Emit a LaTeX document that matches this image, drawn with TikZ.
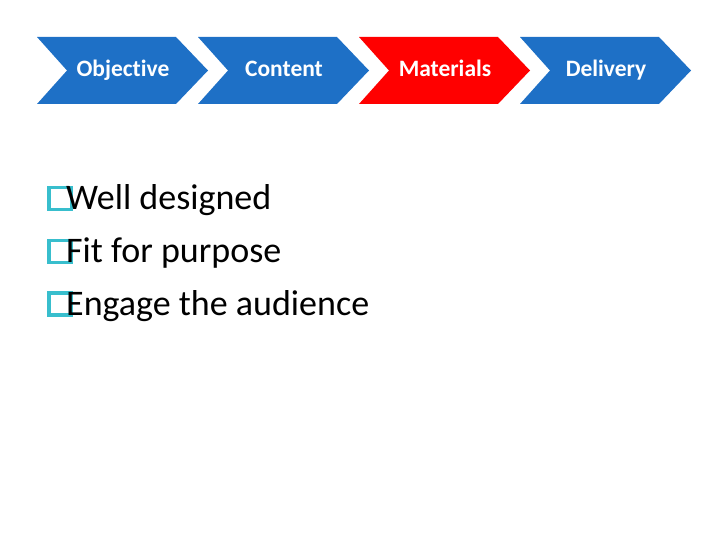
\documentclass[tikz,border=0pt]{standalone}
\usepackage{fontspec}
\setmainfont[Ligatures={NoCommon,NoContextual}]{Carlito}
\definecolor{chevblue}{RGB}{30,112,198}
\definecolor{chevred}{RGB}{255,0,0}
\definecolor{boxcyan}{RGB}{56,190,205}
\begin{document}
\begin{tikzpicture}[x=1pt,y=-1pt,
  chevlabel/.style={anchor=base,text=white,font=\fontsize{23.5}{28}\selectfont\bfseries,inner sep=0pt},
  bullettext/.style={anchor=base west,font=\fontsize{36}{42}\selectfont,inner sep=0pt},
  bulletbox/.style={draw=boxcyan,line width=3.5pt}]
\useasboundingbox (0,0) rectangle (720,540);
% chevrons
\fill[chevblue] (37,37) -- (176,37) -- (208,70.5) -- (176,104) -- (37,104) -- (67,70.5) -- cycle;
\node[chevlabel] (objective) at (123,77) {Objective};
\fill[chevblue] (198,37) -- (337,37) -- (369,70.5) -- (337,104) -- (198,104) -- (228,70.5) -- cycle;
\node[chevlabel] (content) at (284,77) {Content};
\fill[chevred] (359,37) -- (498,37) -- (530,70.5) -- (498,104) -- (359,104) -- (389,70.5) -- cycle;
\node[chevlabel] (materials) at (445,77) {Materials};
\fill[chevblue] (520,37) -- (659,37) -- (691,70.5) -- (659,104) -- (520,104) -- (550,70.5) -- cycle;
\node[chevlabel] (delivery) at (606,77) {Delivery};
% bullets
\draw[bulletbox] (48.75,187.75) rectangle (71.25,209.75);
\node[bullettext] (b1) at (66,210) {Well designed};
\draw[bulletbox] (48.75,240.25) rectangle (71.25,262.25);
\node[bullettext] (b2) at (66,262.5) {Fit for purpose};
\draw[bulletbox] (48.75,292.75) rectangle (71.25,314.75);
\node[bullettext] (b3) at (66,315) {Engage the audience};
\end{tikzpicture}
\end{document}
